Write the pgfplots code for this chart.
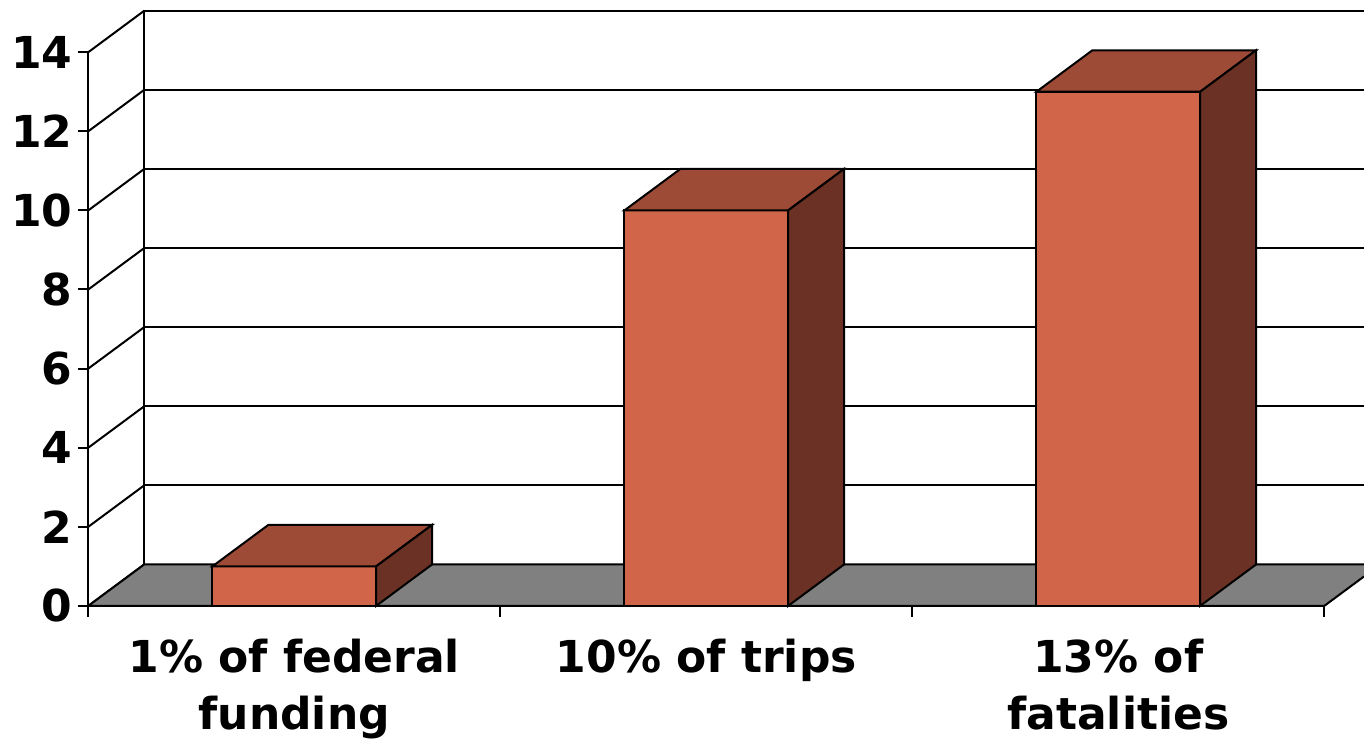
\documentclass[border=0pt]{standalone}
\usepackage{pgfplots}
\pgfplotsset{compat=1.18}
\usepackage{fontspec}
\setmainfont{DejaVu Sans}

\definecolor{barfront}{RGB}{209,101,74}
\definecolor{bartop}{RGB}{157,75,55}
\definecolor{barside}{RGB}{107,49,37}
\definecolor{floorgray}{RGB}{128,128,128}

% depth offset of the oblique projection (x in category units, y in data units)
\def\dx{0.1359}
\def\dy{1.049}
% half width of a bar
\def\hw{0.1987}
% right end of the visible area
\def\xend{2.5964}

% one box-shaped bar: #1 category position, #2 value
\newcommand\barbox[2]{%
  \pgfmathsetmacro\xl{#1-\hw}%
  \pgfmathsetmacro\xr{#1+\hw}%
  \pgfmathsetmacro\xlb{#1-\hw+\dx}%
  \pgfmathsetmacro\xrb{#1+\hw+\dx}%
  \pgfmathsetmacro\yt{#2}%
  \pgfmathsetmacro\ytb{#2+\dy}%
  \edef\tmp{%
    \noexpand\addplot[fill=barfront] coordinates {(\xl,0) (\xr,0) (\xr,\yt) (\xl,\yt)} -- cycle;
    \noexpand\addplot[fill=bartop] coordinates {(\xl,\yt) (\xr,\yt) (\xrb,\ytb) (\xlb,\ytb)} -- cycle;
    \noexpand\addplot[fill=barside] coordinates {(\xr,0) (\xrb,\dy) (\xrb,\ytb) (\xr,\yt)} -- cycle;
  }\tmp
}

\begin{document}
\begin{tikzpicture}
\begin{axis}[
  x=206pt, y=19.775pt,
  xmin=-0.5, xmax=\xend, ymin=0, ymax=15.32,
  clip=false,
  axis line style={draw=none},
  tick pos=left,
  tick align=outside,
  tick style={black, line width=1pt},
  major tick length=5.15pt,
  minor tick length=5.35pt,
  ytick={0,2,...,14},
  xtick={0,1,2},
  minor xtick={-0.5,0.5,1.5,2.5},
  major x tick style={draw=none},
  xticklabels={{1\% of federal\\funding},{10\% of trips},{13\% of\\fatalities}},
  /pgf/number format/assume math mode=true,
  ticklabel style={font=\bfseries\fontsize{22}{28.5}\selectfont},
  yticklabel style={inner xsep=2.5pt},
  xticklabel style={align=center, yshift=-8pt},
  cycle list={{draw=black, solid, mark=none}},
  every axis plot/.append style={draw=black, solid, line width=1pt, mark=none},
]
% side wall diagonals and front value axis
\pgfplotsinvokeforeach{0,2,...,14}{
  \addplot coordinates {(-0.5,#1) (-0.5+\dx,#1+\dy)};
}
\addplot coordinates {(-0.5,0) (-0.5,14)};
% back wall: left edge and gridlines
\addplot coordinates {(-0.5+\dx,\dy) (-0.5+\dx,14+\dy)};
\pgfplotsinvokeforeach{2,4,...,14}{
  \addplot coordinates {(-0.5+\dx,#1+\dy) (\xend,#1+\dy)};
}
% floor
\addplot[draw=none, fill=floorgray] coordinates {(-0.5,0) (2.5,0) (\xend,0.7441) (\xend,\dy) (-0.5+\dx,\dy)} -- cycle;
\addplot coordinates {(\xend,\dy) (-0.5+\dx,\dy) (-0.5,0) (2.5,0) (\xend,0.7441)};
% bars
\barbox{0}{1}
\barbox{1}{10}
\barbox{2}{13}
\coordinate (bbsw) at (rel axis cs:-0.06922,-0.2263);
\coordinate (bbne) at (rel axis cs:1,1);
\end{axis}
\pgfresetboundingbox
\path[use as bounding box] (bbsw) rectangle (bbne);
\end{tikzpicture}
\end{document}
